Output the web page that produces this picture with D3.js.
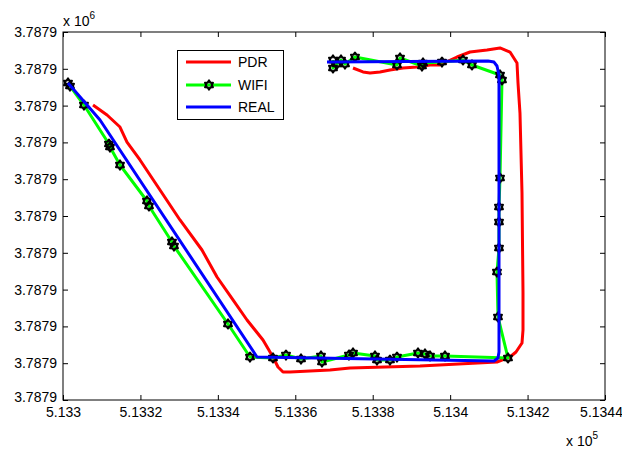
<!DOCTYPE html>
<html>
<head>
<meta charset="utf-8">
<script src="https://cdn.jsdelivr.net/npm/d3@7"></script>
<style>
  html, body { margin: 0; padding: 0; background: #fff; }
  svg { display: block; font-family: "Liberation Sans", Arial, sans-serif; }
</style>
</head>
<body>
<svg id="chart" width="622" height="453"></svg>
<script>
// ---------------- data ----------------
const seriesNames = ["PDR", "WIFI", "REAL"];

const pdrX = [513374.91, 513377.49, 513379.30, 513381.88, 513384.46, 513387.82, 513391.44, 513394.80, 513397.38, 513401.77,
  513405.13, 513409.52, 513412.88, 513415.46, 513417.27, 513417.53, 513418.04, 513418.56, 513418.82, 513418.82,
  513418.56, 513417.01, 513415.46, 513412.10, 513392.21, 513374.13, 513368.97, 513358.63, 513356.83, 513355.53,
  513354.24, 513351.66, 513347.53, 513343.91, 513339.78, 513335.90, 513330.22, 513324.54, 513319.89, 513316.53,
  513314.72, 513311.37, 513307.75];
const pdrY = [3787935.11, 3787934.57, 3787934.43, 3787934.57, 3787934.84, 3787935.11, 3787935.24, 3787935.52, 3787935.52, 3787936.60,
  3787937.28, 3787937.55, 3787937.83, 3787937.28, 3787935.79, 3787933.07, 3787928.99, 3787918.13, 3787904.54, 3787899.51,
  3787897.74, 3787896.52, 3787895.84, 3787895.16, 3787894.62, 3787894.35, 3787894.08, 3787893.80, 3787893.80, 3787894.48,
  3787895.84, 3787898.15, 3787900.87, 3787903.59, 3787906.71, 3787910.38, 3787914.46, 3787918.94, 3787922.61, 3787925.05,
  3787927.09, 3787928.72, 3787930.08];

const wifiX = [513369.74, 513369.74, 513370.77, 513371.81, 513372.84, 513375.42, 513386.27, 513387.05, 513392.73, 513392.99,
  513397.90, 513403.32, 513405.64, 513412.88, 513413.39, 513412.88, 513412.62, 513412.62, 513412.62, 513412.10,
  513412.36, 513414.94, 513398.67, 513394.80, 513393.50, 513391.70, 513386.27, 513384.46, 513381.11, 513380.59,
  513374.91, 513373.87, 513366.90, 513366.64, 513361.48, 513357.60, 513354.24, 513348.30, 513342.62, 513328.67,
  513328.15, 513322.21, 513321.70, 513314.72, 513312.14, 513311.88, 513305.42, 513301.81, 513301.29];
const wifiY = [3787936.20, 3787935.11, 3787935.65, 3787936.20, 3787935.65, 3787936.60, 3787935.52, 3787936.47, 3787935.38, 3787935.79,
  3787935.92, 3787936.20, 3787935.52, 3787934.16, 3787933.48, 3787920.16, 3787916.22, 3787914.18, 3787910.65, 3787907.39,
  3787901.28, 3787895.71, 3787895.98, 3787895.98, 3787896.25, 3787896.39, 3787895.84, 3787895.43, 3787895.43, 3787895.98,
  3787896.39, 3787896.11, 3787895.16, 3787895.98, 3787895.57, 3787896.11, 3787895.71, 3787895.84, 3787900.33, 3787910.92,
  3787911.47, 3787916.36, 3787917.04, 3787921.93, 3787924.37, 3787924.78, 3787930.08, 3787932.66, 3787933.07];

const realX = [513368.19, 513409.78, 513411.33, 513412.10, 513412.62, 513412.62, 513412.36, 513411.33, 513350.11, 513309.56, 513301.29];
const realY = [3787935.92, 3787936.06, 3787935.92, 3787935.38, 3787934.16, 3787896.52, 3787895.71, 3787895.30, 3787895.84, 3787928.04, 3787933.07];

const xTicks = [513300, 513320, 513340, 513360, 513380, 513400, 513420, 513440];
const yTicks = [3787890, 3787895, 3787900, 3787905, 3787910, 3787915, 3787920, 3787925, 3787930, 3787935, 3787940];
const xExponent = "5";
const yExponent = "6";

// ---------------- layout ----------------
const M = { left: 63, right: 605, top: 32, bottom: 400 };
const FONT = 14;
const colors = { PDR: "#ff0000", WIFI: "#00ff00", REAL: "#0000ff" };

const svg = d3.select("#chart");
const x = d3.scaleLinear().domain([xTicks[0], xTicks[xTicks.length - 1]]).range([M.left, M.right]);
const y = d3.scaleLinear().domain([yTicks[0], yTicks[yTicks.length - 1]]).range([M.bottom, M.top]);

const xFmt = v => String(+(v / 1e5).toFixed(4));
const yFmt = v => (v / 1e6).toFixed(4);

// clip
svg.append("defs").append("clipPath").attr("id", "clip")
  .append("rect").attr("x", M.left - 5).attr("y", M.top - 5)
  .attr("width", M.right - M.left + 10).attr("height", M.bottom - M.top + 10);

// axes
const gB = svg.append("g").attr("transform", `translate(0,${M.bottom})`)
  .call(d3.axisBottom(x).tickValues(xTicks).tickFormat(xFmt).tickSizeInner(-5).tickSizeOuter(0).tickPadding(7));
const gT = svg.append("g").attr("transform", `translate(0,${M.top})`)
  .call(d3.axisTop(x).tickValues(xTicks).tickFormat("").tickSizeInner(-5).tickSizeOuter(0));
const gL = svg.append("g").attr("transform", `translate(${M.left},0)`)
  .call(d3.axisLeft(y).tickValues(yTicks).tickFormat(yFmt).tickSizeInner(-5).tickSizeOuter(0).tickPadding(6));
const gR = svg.append("g").attr("transform", `translate(${M.right},0)`)
  .call(d3.axisRight(y).tickValues(yTicks).tickFormat("").tickSizeInner(-5).tickSizeOuter(0));

[gB, gT, gL, gR].forEach(g => {
  g.select(".domain").remove();
  g.selectAll("line").attr("stroke", "#000");
  g.selectAll("text").attr("fill", "#000").style("font-size", FONT + "px")
    .style("font-family", '"Liberation Sans", Arial, sans-serif');
});
// keep the last x label inside the window
gB.selectAll(".tick").filter(d => d === xTicks[xTicks.length - 1]).select("text").attr("dx", -4);
// lift the lowest y label a little, as in the reference
gL.selectAll(".tick").filter(d => d === yTicks[0]).select("text").attr("dy", "0.1em");

// series
const plot = svg.append("g").attr("clip-path", "url(#clip)");
const line = d3.line().x(d => x(d[0])).y(d => y(d[1]));

const pdr = pdrX.map((v, i) => [v, pdrY[i]]);
const wifi = wifiX.map((v, i) => [v, wifiY[i]]);
const real = realX.map((v, i) => [v, realY[i]]);

plot.append("path").datum(pdr).attr("d", line)
  .attr("fill", "none").attr("stroke", colors.PDR).attr("stroke-width", 3).attr("stroke-linejoin", "round");
plot.append("path").datum(wifi).attr("d", line)
  .attr("fill", "none").attr("stroke", colors.WIFI).attr("stroke-width", 3).attr("stroke-linejoin", "round");

// hexagram marker (MATLAB 'h'-like)
const hexagram = {
  draw(ctx, size) {
    const R = Math.sqrt(size / 2.2), r = R * 0.62;
    for (let k = 0; k < 12; k++) {
      const a = -Math.PI / 2 + k * Math.PI / 6;
      const rr = k % 2 === 0 ? R : r;
      const px = rr * Math.cos(a), py = rr * Math.sin(a);
      if (k === 0) ctx.moveTo(px, py); else ctx.lineTo(px, py);
    }
    ctx.closePath();
  }
};
const marker = d3.symbol().type(hexagram).size(44);
plot.selectAll("path.mk").data(wifi).join("path").attr("class", "mk")
  .attr("d", marker)
  .attr("transform", d => `translate(${x(d[0])},${y(d[1])})`)
  .attr("fill", "none").attr("stroke", "#000").attr("stroke-width", 2.2).attr("stroke-linejoin", "round");

plot.append("path").datum(real).attr("d", line)
  .attr("fill", "none").attr("stroke", colors.REAL).attr("stroke-width", 3).attr("stroke-linejoin", "round");

// frame
svg.append("rect").attr("x", M.left).attr("y", M.top)
  .attr("width", M.right - M.left).attr("height", M.bottom - M.top)
  .attr("fill", "none").attr("stroke", "#000").attr("stroke-width", 1);

// exponents
function expLabel(px, py, exp) {
  const t = svg.append("text").attr("x", px).attr("y", py).attr("fill", "#000")
    .style("font-size", FONT + "px");
  t.append("tspan").text("x 10");
  t.append("tspan").attr("dy", -7).style("font-size", "10px").text(exp);
}
expLabel(M.left, 26, yExponent);
expLabel(566, 446, xExponent);

// legend
const lg = svg.append("g");
lg.append("rect").attr("x", 177.5).attr("y", 50.5).attr("width", 106).attr("height", 69)
  .attr("fill", "#fff").attr("stroke", "#000").attr("stroke-width", 1);
const lgY = [62, 85, 107];
seriesNames.forEach((name, i) => {
  lg.append("line").attr("x1", 186).attr("x2", 231).attr("y1", lgY[i]).attr("y2", lgY[i])
    .attr("stroke", colors[name]).attr("stroke-width", 3);
  if (name === "WIFI") {
    lg.append("path").attr("d", marker).attr("transform", `translate(209,${lgY[i]})`)
      .attr("fill", "none").attr("stroke", "#000").attr("stroke-width", 2.2).attr("stroke-linejoin", "round");
  }
  lg.append("text").attr("x", 238).attr("y", lgY[i]).attr("dy", "0.35em")
    .attr("fill", "#000").style("font-size", FONT + "px").text(name);
});
</script>
</body>
</html>
